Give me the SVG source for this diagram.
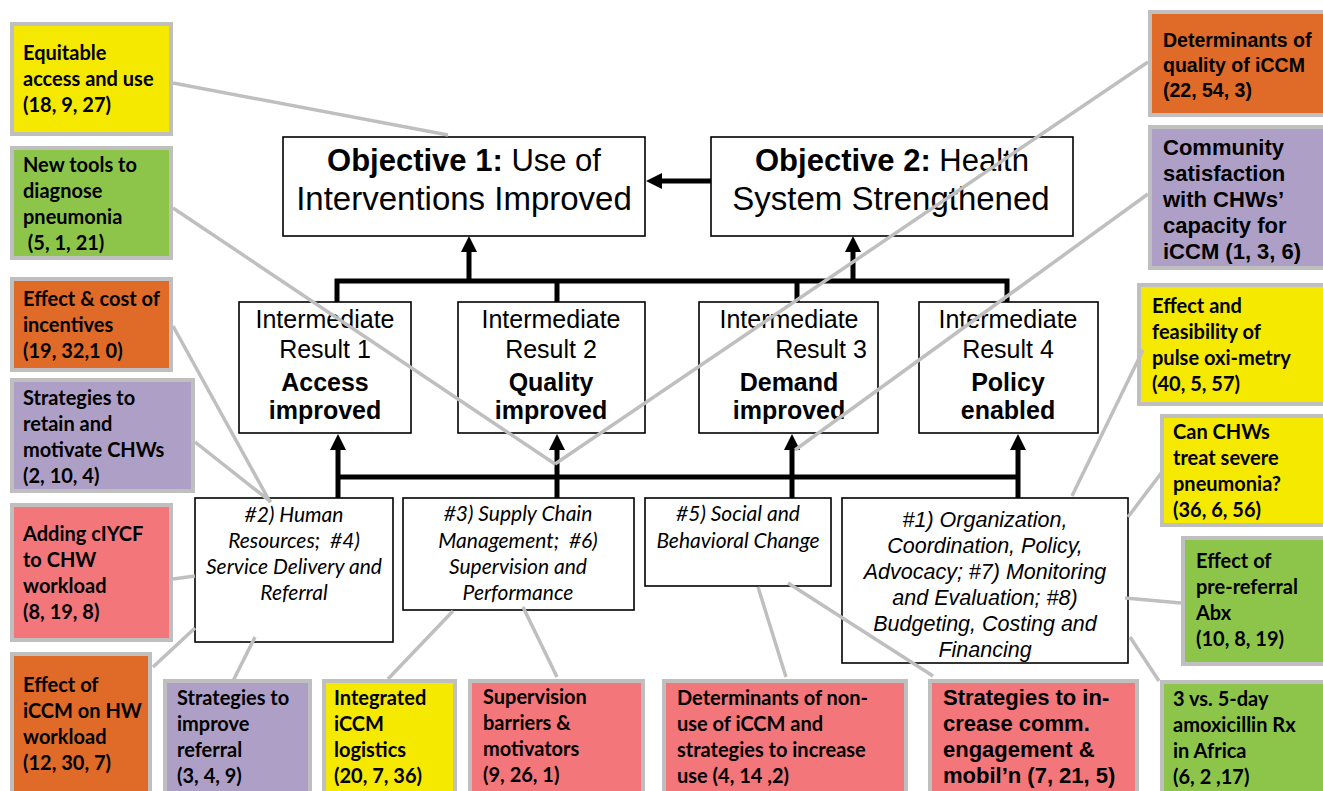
<svg xmlns="http://www.w3.org/2000/svg" width="1323" height="791" viewBox="0 0 1323 791">
<style>
.box{stroke:#BFBFBF;stroke-width:4}
.y{fill:#F5E900}.g{fill:#8DC54B}.o{fill:#E06A27}.p{fill:#AE9FC7}.r{fill:#F3767B}
.wb{fill:#fff;stroke:#000;stroke-width:1.6}
.c{font-family:Lato,"Open Sans",sans-serif;font-weight:bold;font-size:20px;fill:#000}
.a{font-family:"Liberation Sans",Arial,sans-serif;font-weight:bold;font-size:22px;fill:#000}
.a2{font-family:"Liberation Sans",Arial,sans-serif;font-weight:bold;font-size:19.5px;fill:#000}
.ci{font-family:Lato,"Open Sans",sans-serif;font-style:italic;font-size:21px;fill:#000;text-anchor:middle}
.ai{font-family:"Liberation Sans",Arial,sans-serif;font-style:italic;font-size:21.5px;fill:#000;text-anchor:middle}
.obj{font-family:"Liberation Sans",Arial,sans-serif;font-size:31px;fill:#000;text-anchor:middle}
.obj2{font-family:"Liberation Sans",Arial,sans-serif;font-size:33px;fill:#000;text-anchor:middle}
.ir{font-family:"Liberation Sans",Arial,sans-serif;font-size:25px;fill:#000;text-anchor:middle}
.irb{font-family:"Liberation Sans",Arial,sans-serif;font-size:25px;font-weight:bold;fill:#000;text-anchor:middle}
.gl{stroke:#BFBFBF;stroke-width:3.5;fill:none}
.bl{stroke:#000;stroke-width:5;fill:none}
</style>
<defs>
<marker id="ah" markerUnits="userSpaceOnUse" markerWidth="18" markerHeight="16" refX="2" refY="8" orient="auto">
<path d="M0,0 L16,8 L0,16 z" fill="#000"/>
</marker>
</defs>
<rect width="1323" height="791" fill="#fff"/>

<g id="obj1"><rect class="wb" x="283" y="137" width="362" height="99"/>
<text class="obj" x="464" y="171"><tspan font-weight="bold">Objective 1:</tspan> Use of</text>
<text class="obj2" x="464" y="210">Interventions Improved</text></g>
<g id="obj2"><rect class="wb" x="711" y="137" width="362" height="99"/>
<text class="obj" x="892" y="171"><tspan font-weight="bold">Objective 2:</tspan> Health</text>
<text class="obj2" x="891" y="210">System Strengthened</text></g>

<g id="ir1"><rect class="wb" x="239" y="302" width="172" height="131"/>
<text class="ir" x="325" y="328">Intermediate</text><text class="ir" x="325" y="358">Result 1</text>
<text class="irb" x="325" y="391">Access</text><text class="irb" x="325" y="419">improved</text></g>
<g id="ir2"><rect class="wb" x="458" y="302" width="187" height="131"/>
<text class="ir" x="551" y="328">Intermediate</text><text class="ir" x="551" y="358">Result 2</text>
<text class="irb" x="551" y="391">Quality</text><text class="irb" x="551" y="419">improved</text></g>
<g id="ir3"><rect class="wb" x="699" y="302" width="179" height="131"/>
<text class="ir" x="789" y="328">Intermediate</text><text class="ir" x="821" y="358">Result 3</text>
<text class="irb" x="789" y="391">Demand</text><text class="irb" x="789" y="419">improved</text></g>
<g id="ir4"><rect class="wb" x="919" y="302" width="179" height="131"/>
<text class="ir" x="1008" y="328">Intermediate</text><text class="ir" x="1008" y="358">Result 4</text>
<text class="irb" x="1008" y="391">Policy</text><text class="irb" x="1008" y="419">enabled</text></g>

<g id="sa"><rect class="wb" x="195" y="498" width="198" height="144"/>
<text class="ci" x="294" y="522">#2) Human</text><text class="ci" x="294" y="548" xml:space="preserve">Resources;  #4)</text>
<text class="ci" x="294" y="574">Service Delivery and</text><text class="ci" x="294" y="600">Referral</text></g>
<g id="sb"><rect class="wb" x="403" y="498" width="231" height="112"/>
<text class="ci" x="518" y="521">#3) Supply Chain</text><text class="ci" x="518" y="548" xml:space="preserve">Management;  #6)</text>
<text class="ci" x="518" y="574">Supervision and</text><text class="ci" x="518" y="600">Performance</text></g>
<g id="sc"><rect class="wb" x="645" y="498" width="186" height="88"/>
<text class="ci" x="738" y="521">#5) Social and</text><text class="ci" x="738" y="548">Behavioral Change</text></g>
<g id="sd"><rect class="wb" x="842" y="498" width="286" height="165"/>
<text class="ai" x="985" y="527">#1) Organization,</text><text class="ai" x="985" y="553">Coordination, Policy,</text>
<text class="ai" x="985" y="579">Advocacy; #7) Monitoring</text><text class="ai" x="985" y="605">and Evaluation; #8)</text>
<text class="ai" x="985" y="631">Budgeting, Costing and</text><text class="ai" x="985" y="657">Financing</text></g>

<g id="n1"><rect class="box y" x="12" y="24" width="159" height="110"/>
<text class="c" x="23" y="60">Equitable</text><text class="c" x="23" y="86">access and use</text><text class="c" x="23" y="112">(18, 9, 27)</text></g>
<g id="n2"><rect class="box g" x="12" y="148" width="159" height="110"/>
<text class="c" x="23" y="172">New tools to</text><text class="c" x="23" y="198">diagnose</text><text class="c" x="23" y="224">pneumonia</text><text class="c" x="23" y="250" xml:space="preserve"> (5, 1, 21)</text></g>
<g id="n3"><rect class="box o" x="12" y="279" width="159" height="91"/>
<text class="c" x="23" y="306">Effect &amp; cost of</text><text class="c" x="23" y="332">incentives</text><text class="c" x="23" y="358">(19, 32,1 0)</text></g>
<g id="n4"><rect class="box p" x="12" y="380" width="181" height="111"/>
<text class="c" x="23" y="405">Strategies to</text><text class="c" x="23" y="431">retain and</text><text class="c" x="23" y="457">motivate CHWs</text><text class="c" x="23" y="483">(2, 10, 4)</text></g>
<g id="n5"><rect class="box r" x="12" y="505" width="159" height="135"/>
<text class="c" x="23" y="541">Adding cIYCF</text><text class="c" x="23" y="567">to CHW</text><text class="c" x="23" y="593">workload</text><text class="c" x="23" y="619">(8, 19, 8)</text></g>
<g id="n6"><rect class="box o" x="12" y="654" width="138" height="145"/>
<text class="c" x="23" y="692">Effect of</text><text class="c" x="23" y="718">iCCM on HW</text><text class="c" x="23" y="744">workload</text><text class="c" x="23" y="770">(12, 30, 7)</text></g>
<g id="n7"><rect class="box p" x="165" y="681" width="145" height="118"/>
<text class="c" x="177" y="705">Strategies to</text><text class="c" x="177" y="731">improve</text><text class="c" x="177" y="757">referral</text><text class="c" x="177" y="783">(3, 4, 9)</text></g>
<g id="n8"><rect class="box y" x="324" y="681" width="131" height="118"/>
<text class="c" x="334" y="705">Integrated</text><text class="c" x="334" y="731">iCCM</text><text class="c" x="334" y="757">logistics</text><text class="c" x="334" y="783">(20, 7, 36)</text></g>
<g id="n9"><rect class="box r" x="470" y="681" width="173" height="118"/>
<text class="c" x="483" y="704">Supervision</text><text class="c" x="483" y="730">barriers &amp;</text><text class="c" x="483" y="756">motivators</text><text class="c" x="483" y="782">(9, 26, 1)</text></g>
<g id="n10"><rect class="box r" x="664" y="681" width="242" height="118"/>
<text class="c" x="677" y="705">Determinants of non-</text><text class="c" x="677" y="731">use of iCCM and</text><text class="c" x="677" y="757">strategies to increase</text><text class="c" x="677" y="783">use (4, 14 ,2)</text></g>
<g id="n11"><rect class="box r" x="930" y="681" width="207" height="118"/>
<text class="a" x="943" y="705">Strategies to in-</text><text class="a" x="943" y="731">crease comm.</text><text class="a" x="943" y="757">engagement &amp;</text><text class="a" x="943" y="783">mobil’n (7, 21, 5)</text></g>
<g id="n12"><rect class="box g" x="1162" y="682" width="170" height="118"/>
<text class="c" x="1173" y="706">3 vs. 5-day</text><text class="c" x="1173" y="732">amoxicillin Rx</text><text class="c" x="1173" y="758">in Africa</text><text class="c" x="1173" y="784">(6, 2 ,17)</text></g>
<g id="n13"><rect class="box g" x="1183" y="538" width="150" height="126"/>
<text class="c" x="1196" y="568">Effect of</text><text class="c" x="1196" y="594">pre-referral</text><text class="c" x="1196" y="620">Abx</text><text class="c" x="1196" y="646">(10, 8, 19)</text></g>
<g id="n14"><rect class="box y" x="1162" y="416" width="170" height="109"/>
<text class="c" x="1173" y="439">Can CHWs</text><text class="c" x="1173" y="465">treat severe</text><text class="c" x="1173" y="491">pneumonia?</text><text class="c" x="1173" y="517">(36, 6, 56)</text></g>
<g id="n15"><rect class="box y" x="1139" y="285" width="190" height="119"/>
<text class="c" x="1152" y="313">Effect and</text><text class="c" x="1152" y="339">feasibility of</text><text class="c" x="1152" y="365">pulse oxi-metry</text><text class="c" x="1152" y="391">(40, 5, 57)</text></g>
<g id="n16"><rect class="box p" x="1150" y="127" width="180" height="141"/>
<text class="a" x="1163" y="155">Community</text><text class="a" x="1163" y="181">satisfaction</text><text class="a" x="1163" y="207">with CHWs’</text><text class="a" x="1163" y="233">capacity for</text><text class="a" x="1163" y="259">iCCM (1, 3, 6)</text></g>
<g id="n17"><rect class="box o" x="1150" y="12" width="180" height="103"/>
<text class="a2" x="1163" y="47">Determinants of</text><text class="a2" x="1163" y="72">quality of iCCM</text><text class="a2" x="1163" y="97">(22, 54, 3)</text></g>

<g id="connectors">
<path class="bl" d="M337,302 V281 H1007 V302 M557,281 V302 M797,281 V302"/>
<path class="bl" d="M469,281 V250" marker-end="url(#ah)"/>
<path class="bl" d="M853,281 V250" marker-end="url(#ah)"/>
<path class="bl" d="M711,181 H660" marker-end="url(#ah)"/>
<path class="bl" d="M338,477 H1020"/>
<path class="bl" d="M338,498 V448" marker-end="url(#ah)"/>
<path class="bl" d="M557,498 V448" marker-end="url(#ah)"/>
<path class="bl" d="M792,498 V448" marker-end="url(#ah)"/>
<path class="bl" d="M1018,498 V448" marker-end="url(#ah)"/>
<path class="gl" d="M173,83 L448,135"/>
<path class="gl" d="M173,208 L555,464"/>
<path class="gl" d="M173,326 L270,502"/>
<path class="gl" d="M195,442 L271,502"/>
<path class="gl" d="M173,579 L195,576"/>
<path class="gl" d="M153,667 L195,628"/>
<path class="gl" d="M233,681 L255,637"/>
<path class="gl" d="M388,679 L453,611"/>
<path class="gl" d="M557,677 L523,607"/>
<path class="gl" d="M786,677 L758,587"/>
<path class="gl" d="M933,676 L788,583"/>
<path class="gl" d="M1159,681 L1130,637"/>
<path class="gl" d="M1181,603 L1125,598"/>
<path class="gl" d="M1162,472 L1128,517"/>
<path class="gl" d="M1143,350 L1072,496"/>
<path class="gl" d="M1148,62 L555,464"/>
<path class="gl" d="M1148,194 L795,450"/>
</g>
</svg>
